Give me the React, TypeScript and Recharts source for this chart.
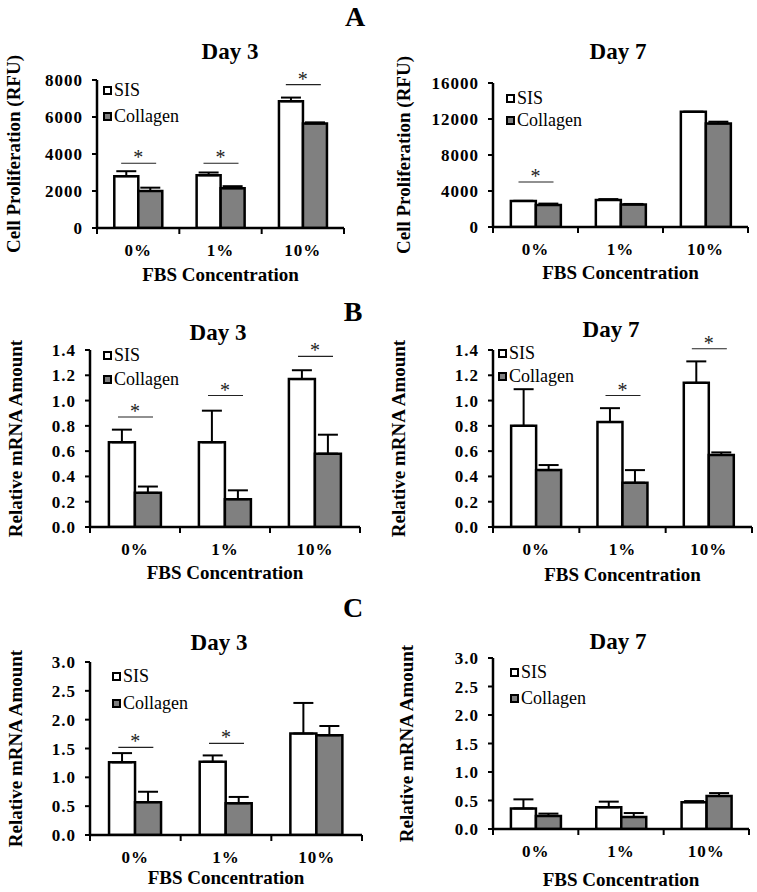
import React from 'react';
import { BarChart, Bar, XAxis, YAxis, ErrorBar, Legend, ReferenceLine } from 'recharts';

const FONT = '"Times New Roman", "Liberation Serif", Times, serif';

const categories = ['0%', '1%', '10%'];
const seriesNames = ['SIS', 'Collagen'];

// A: cell proliferation (RFU)
const prolifD3Sis = [2800, 2850, 6850];
const prolifD3SisErr = [270, 150, 200];
const prolifD3Col = [2000, 2150, 5650];
const prolifD3ColErr = [180, 110, 60];
const prolifD3Sig = [3500, 3500, 7750];

const prolifD7Sis = [2900, 3000, 12800];
const prolifD7SisErr = [0, 100, 0];
const prolifD7Col = [2450, 2500, 11500];
const prolifD7ColErr = [150, 60, 200];
const prolifD7Sig = [5000, null, null];

// B: relative mRNA amount
const mrnaBD3Sis = [0.67, 0.67, 1.17];
const mrnaBD3SisErr = [0.1, 0.25, 0.07];
const mrnaBD3Col = [0.27, 0.22, 0.58];
const mrnaBD3ColErr = [0.05, 0.07, 0.15];
const mrnaBD3Sig = [0.87, 1.04, 1.35];

const mrnaBD7Sis = [0.8, 0.83, 1.14];
const mrnaBD7SisErr = [0.29, 0.11, 0.17];
const mrnaBD7Col = [0.45, 0.35, 0.57];
const mrnaBD7ColErr = [0.04, 0.1, 0.02];
const mrnaBD7Sig = [null, 1.04, 1.41];

// C: relative mRNA amount
const mrnaCD3Sis = [1.26, 1.27, 1.76];
const mrnaCD3SisErr = [0.16, 0.11, 0.53];
const mrnaCD3Col = [0.57, 0.55, 1.73];
const mrnaCD3ColErr = [0.18, 0.11, 0.16];
const mrnaCD3Sig = [1.52, 1.59, null];

const mrnaCD7Sis = [0.36, 0.38, 0.47];
const mrnaCD7SisErr = [0.16, 0.1, 0.02];
const mrnaCD7Col = [0.23, 0.21, 0.58];
const mrnaCD7ColErr = [0.04, 0.07, 0.05];
const mrnaCD7Sig = [null, null, null];

const prolifTicks = [0, 2000, 4000, 6000, 8000];
const prolifD7Ticks = [0, 4000, 8000, 12000, 16000];
const mrnaBTicks = [0, 0.2, 0.4, 0.6, 0.8, 1.0, 1.2, 1.4];
const mrnaCTicks = [0, 0.5, 1.0, 1.5, 2.0, 2.5, 3.0];

function rows(sis: number[], sisErr: number[], col: number[], colErr: number[]) {
  return categories.map((c, i) => ({
    cat: c,
    sis: sis[i],
    sisErr: [0, sisErr[i]],
    col: col[i],
    colErr: [0, colErr[i]],
  }));
}

function XTick(props: any) {
  const { x, y, payload, index, visibleTicksCount, width } = props;
  const half = payload && payload.offset ? payload.offset : width / visibleTicksCount / 2;
  return (
    <g>
      {index === 0 && <line x1={x - half} x2={x - half} y1={y} y2={y + 6} stroke="#000" strokeWidth={2} />}
      <line x1={x + half} x2={x + half} y1={y} y2={y + 6} stroke="#000" strokeWidth={2} />
      <text
        x={x}
        y={y + 22}
        textAnchor="middle"
        dominantBaseline="central"
        fontFamily={FONT}
        fontWeight="bold"
        fontSize={17}
        letterSpacing={1}
        fill="#000"
      >
        {payload.value}
      </text>
    </g>
  );
}

const sigShape = (props: any) => {
  const { x1, y1 } = props;
  return (
    <g>
      <line x1={x1 - 17} x2={x1 + 18} y1={y1} y2={y1} stroke="#222" strokeWidth={1.2} />
      <text x={x1} y={y1 + 1} textAnchor="middle" fontFamily={FONT} fontSize={20} fill="#222">
        *
      </text>
    </g>
  );
};

const legendContent = (gap: number) => (props: any) => {
  const items = [...(props.payload || [])].sort(
    (a: any, b: any) => seriesNames.indexOf(a.value) - seriesNames.indexOf(b.value),
  );
  return (
    <div style={{ fontFamily: FONT, fontSize: 18, color: '#000' }}>
      {items.map((e: any) => (
        <div key={e.value} style={{ display: 'flex', alignItems: 'center', height: gap, lineHeight: 1 }}>
          <span
            style={{
              display: 'inline-block',
              width: 5,
              height: 5,
              border: '2px solid #000',
              background: e.color,
              marginRight: 2,
            }}
          />
          <span>{e.value}</span>
        </div>
      ))}
    </div>
  );
};

interface PanelProps {
  left: number;
  top: number;
  width: number;
  height: number;
  plot: { l: number; r: number; t: number; b: number };
  data: any[];
  sig: (number | null)[];
  ticks: number[];
  decimals: number;
  yLabel: string;
  yLabelX: number;
  xLabelOffset: number;
  title: string;
  titlePos: [number, number];
  legend: [number, number, number];
}

function Panel(p: PanelProps) {
  const max = p.ticks[p.ticks.length - 1];
  return (
    <div style={{ position: 'absolute', left: p.left, top: p.top, width: p.width, height: p.height }}>
      <div
        style={{
          position: 'absolute',
          left: p.titlePos[0],
          top: p.titlePos[1],
          transform: 'translate(-50%, -50%)',
          fontFamily: FONT,
          fontWeight: 'bold',
          fontSize: 23,
          whiteSpace: 'nowrap',
          color: '#000',
        }}
      >
        {p.title}
      </div>
      <BarChart
        width={p.width}
        height={p.height}
        data={p.data}
        margin={{ top: p.plot.t, right: p.width - p.plot.r, left: 0, bottom: 0 }}
        barCategoryGap="21%"
        barGap={0}
      >
        <XAxis
          dataKey="cat"
          height={p.height - p.plot.b}
          interval={0}
          tickSize={0}
          tickMargin={0}
          tickLine={false}
          axisLine={{ stroke: '#000', strokeWidth: 2.5 }}
          tick={(tp: any) => <XTick {...tp} />}
          label={{
            value: 'FBS Concentration',
            position: 'insideTop',
            offset: p.xLabelOffset,
            fill: '#000',
            fontSize: 19,
            fontWeight: 'bold',
            fontFamily: FONT,
          }}
        />
        <YAxis
          type="number"
          domain={[0, max]}
          ticks={p.ticks}
          interval={0}
          allowDataOverflow
          width={p.plot.l}
          tickSize={5}
          tickMargin={9}
          axisLine={{ stroke: '#000', strokeWidth: 2.5 }}
          tickLine={{ stroke: '#000', strokeWidth: 2 }}
          tick={{ fill: '#000', fontSize: 17, fontWeight: 'bold', fontFamily: FONT, letterSpacing: 1 }}
          tickFormatter={(v: number) => (p.decimals ? v.toFixed(p.decimals) : String(v))}
          label={{
            value: p.yLabel,
            angle: -90,
            position: 'insideLeft',
            offset: p.yLabelX,
            fill: '#000',
            fontSize: 19,
            fontWeight: 'bold',
            fontFamily: FONT,
            style: { textAnchor: 'middle' },
          }}
        />
        <Legend
          layout="vertical"
          align="center"
          verticalAlign="middle"
          wrapperStyle={{ left: p.legend[0], top: p.legend[1] - p.legend[2] / 2, width: 'auto' }}
          content={legendContent(p.legend[2])}
        />
        <Bar dataKey="sis" name="SIS" fill="#ffffff" stroke="#000" strokeWidth={2.5} isAnimationActive={false}>
          <ErrorBar dataKey="sisErr" width={10} stroke="#000" strokeWidth={2} isAnimationActive={false} />
        </Bar>
        <Bar dataKey="col" name="Collagen" fill="#808080" stroke="#000" strokeWidth={2.5} isAnimationActive={false}>
          <ErrorBar dataKey="colErr" width={10} stroke="#000" strokeWidth={2} isAnimationActive={false} />
        </Bar>
        {p.sig.map((lvl, i) =>
          lvl === null ? null : (
            <ReferenceLine
              key={i}
              segment={[
                { x: categories[i], y: lvl },
                { x: categories[i], y: lvl },
              ]}
              ifOverflow="visible"
              shape={sigShape}
            />
          ),
        )}
      </BarChart>
    </div>
  );
}

const letterStyle: React.CSSProperties = {
  position: 'absolute',
  transform: 'translate(-50%, -50%)',
  fontFamily: FONT,
  fontWeight: 'bold',
  fontSize: 28,
  color: '#000',
};

export default function App() {
  const prolif = 'Cell Proliferation (RFU)';
  const mrna = 'Relative mRNA Amount';
  return (
    <div style={{ position: 'absolute', left: 0, top: 0, width: 757, height: 892, background: '#fff', overflow: 'hidden' }}>
      <Panel
        left={0} top={0} width={378} height={290}
        plot={{ l: 97, r: 344, t: 80, b: 228 }}
        data={rows(prolifD3Sis, prolifD3SisErr, prolifD3Col, prolifD3ColErr)}
        sig={prolifD3Sig} ticks={prolifTicks} decimals={0}
        yLabel={prolif} yLabelX={13} xLabelOffset={40}
        title="Day 3" titlePos={[230, 52]} legend={[103, 90, 26]}
      />
      <Panel
        left={378} top={0} width={379} height={290}
        plot={{ l: 115, r: 370, t: 83, b: 227 }}
        data={rows(prolifD7Sis, prolifD7SisErr, prolifD7Col, prolifD7ColErr)}
        sig={prolifD7Sig} ticks={prolifD7Ticks} decimals={0}
        yLabel={prolif} yLabelX={25} xLabelOffset={39}
        title="Day 7" titlePos={[240, 52]} legend={[128, 98, 22]}
      />
      <Panel
        left={0} top={290} width={378} height={300}
        plot={{ l: 90, r: 360, t: 60, b: 237 }}
        data={rows(mrnaBD3Sis, mrnaBD3SisErr, mrnaBD3Col, mrnaBD3ColErr)}
        sig={mrnaBD3Sig} ticks={mrnaBTicks} decimals={1}
        yLabel={mrna} yLabelX={15} xLabelOffset={39}
        title="Day 3" titlePos={[218, 43]} legend={[103, 65, 24]}
      />
      <Panel
        left={378} top={290} width={379} height={300}
        plot={{ l: 115, r: 374, t: 60, b: 237 }}
        data={rows(mrnaBD7Sis, mrnaBD7SisErr, mrnaBD7Col, mrnaBD7ColErr)}
        sig={mrnaBD7Sig} ticks={mrnaBTicks} decimals={1}
        yLabel={mrna} yLabelX={20} xLabelOffset={41}
        title="Day 7" titlePos={[233, 40]} legend={[120, 63, 23]}
      />
      <Panel
        left={0} top={590} width={378} height={302}
        plot={{ l: 90, r: 362, t: 72, b: 245 }}
        data={rows(mrnaCD3Sis, mrnaCD3SisErr, mrnaCD3Col, mrnaCD3ColErr)}
        sig={mrnaCD3Sig} ticks={mrnaCTicks} decimals={1}
        yLabel={mrna} yLabelX={15} xLabelOffset={36}
        title="Day 3" titlePos={[219, 53]} legend={[112, 86, 27]}
      />
      <Panel
        left={378} top={590} width={379} height={302}
        plot={{ l: 115, r: 371, t: 68, b: 239 }}
        data={rows(mrnaCD7Sis, mrnaCD7SisErr, mrnaCD7Col, mrnaCD7ColErr)}
        sig={mrnaCD7Sig} ticks={mrnaCTicks} decimals={1}
        yLabel={mrna} yLabelX={28} xLabelOffset={44}
        title="Day 7" titlePos={[240, 52]} legend={[132, 82, 26]}
      />
      <div style={{ ...letterStyle, left: 355, top: 17 }}>A</div>
      <div style={{ ...letterStyle, left: 353, top: 312 }}>B</div>
      <div style={{ ...letterStyle, left: 353, top: 608 }}>C</div>
    </div>
  );
}
